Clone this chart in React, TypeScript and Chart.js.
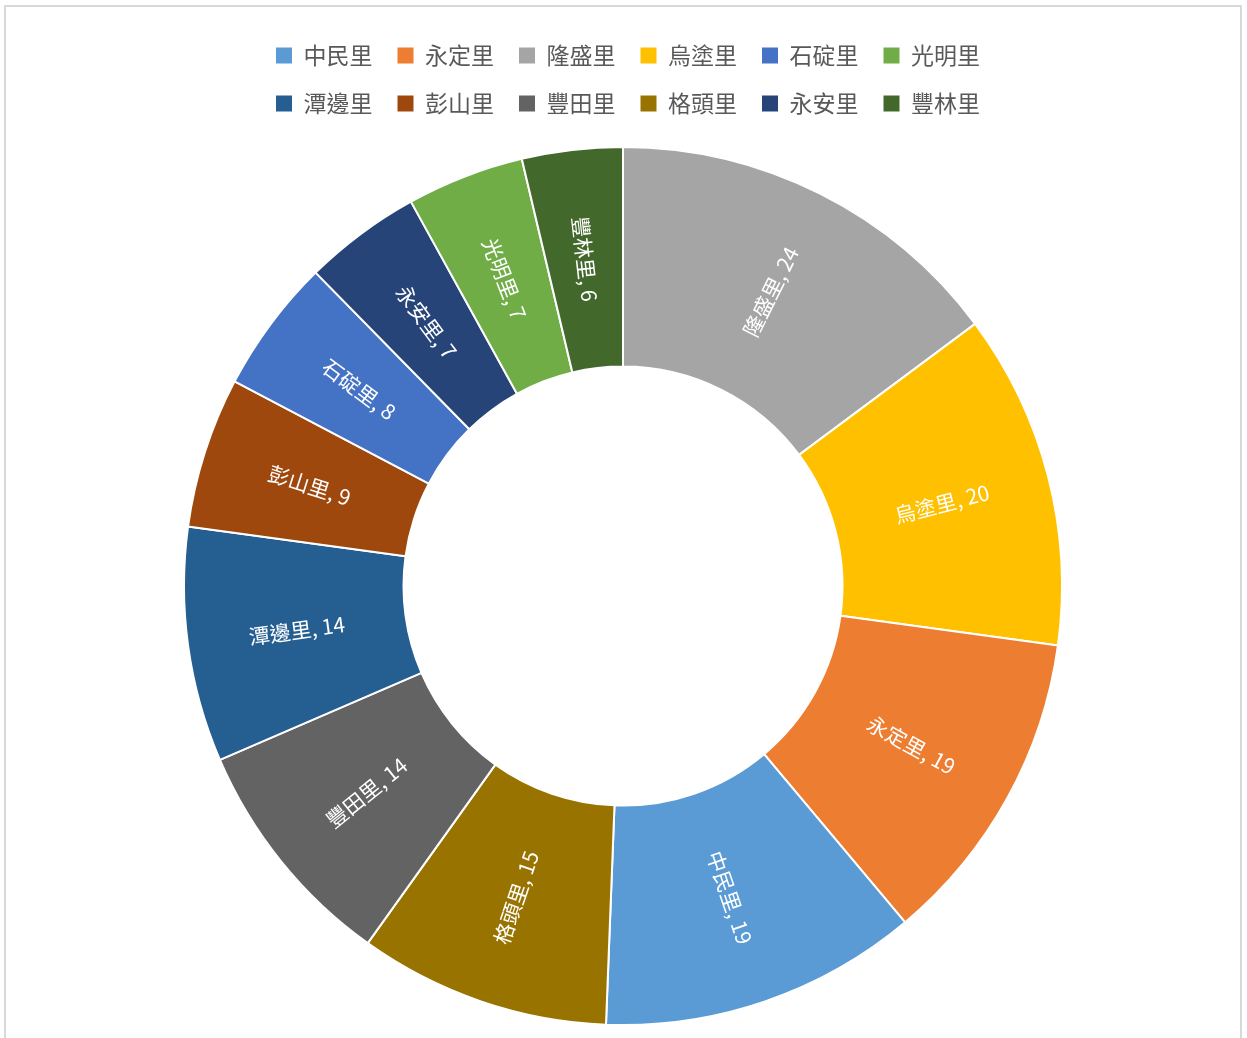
import React, { useEffect, useRef } from "react";
import { Chart, registerables } from "chart.js";

Chart.register(...registerables);

// Slices in clockwise order from 12 o'clock
const categories = ["隆盛里", "烏塗里", "永定里", "中民里", "格頭里", "豐田里", "潭邊里", "彭山里", "石碇里", "永安里", "光明里", "豐林里"];
const values = [24, 20, 19, 19, 15, 14, 14, 9, 8, 7, 7, 6];
const colors = ["#A5A5A5", "#FFC000", "#ED7D31", "#5B9BD5", "#997300", "#636363", "#255E91", "#9E480E", "#4472C4", "#264478", "#70AD47", "#43682B"];
// Legend order (as shown in the reference legend)
const legendOrder = ["中民里", "永定里", "隆盛里", "烏塗里", "石碇里", "光明里", "潭邊里", "彭山里", "豐田里", "格頭里", "永安里", "豐林里"];

const FONT = '"Noto Sans CJK TC", "Noto Sans", sans-serif';
const CANVAS_W = 1234;
const CANVAS_H = 1040;
const LEGEND_W = 800;
const LEGEND_CX = 622;

const legendWrap = {
  id: "legendWrap",
  beforeLayout(chart: any) {
    const lg = chart.legend;
    if (lg && !lg.__patched) {
      const orig = lg.update.bind(lg);
      lg.update = (w: number, h: number, m: any) => orig(Math.min(w, LEGEND_W), h, m);
      lg.__patched = true;
    }
  },
  afterLayout(chart: any) {
    const lg = chart.legend;
    if (!lg) return;
    lg.left = LEGEND_CX - LEGEND_W / 2;
    lg.right = LEGEND_CX + LEGEND_W / 2;
    lg.width = LEGEND_W;
  },
};

const sliceLabels = {
  id: "sliceLabels",
  afterDatasetsDraw(chart: any) {
    const ctx = chart.ctx;
    const meta = chart.getDatasetMeta(0);
    ctx.save();
    ctx.font = `21px ${FONT}`;
    ctx.fillStyle = "#ffffff";
    ctx.textAlign = "center";
    ctx.textBaseline = "middle";
    meta.data.forEach((arc: any, i: number) => {
      const p = arc.getProps(["x", "y", "startAngle", "endAngle", "innerRadius", "outerRadius"], true);
      const mid = (p.startAngle + p.endAngle) / 2;
      const r = (p.innerRadius + p.outerRadius) / 2;
      const x = p.x + r * Math.cos(mid);
      const y = p.y + r * Math.sin(mid);
      let rot = mid;
      if (Math.cos(mid) < 0) rot += Math.PI;
      ctx.save();
      ctx.translate(x, y);
      ctx.rotate(rot);
      ctx.fillText(`${categories[i]}, ${values[i]}`, 0, 0);
      ctx.restore();
    });
    ctx.restore();
  },
};

export default function App() {
  const ref = useRef<HTMLCanvasElement | null>(null);

  useEffect(() => {
    if (!ref.current) return;
    const chart = new Chart(ref.current, {
      type: "doughnut",
      data: {
        labels: categories,
        datasets: [
          {
            data: values,
            backgroundColor: colors,
            borderColor: "#ffffff",
            borderWidth: 2,
          },
        ],
      },
      options: {
        responsive: false,
        animation: false,
        radius: 439,
        cutout: "50%",
        layout: { padding: { top: 12, bottom: 0, left: 0, right: 0 } },
        plugins: {
          tooltip: { enabled: false },
          legend: {
            position: "top",
            labels: {
              boxWidth: 16,
              boxHeight: 16,
              padding: 25,
              color: "#595959",
              font: { size: 23, family: FONT },
              sort: (a: any, b: any) => legendOrder.indexOf(a.text) - legendOrder.indexOf(b.text),
              generateLabels: (chart: any) => {
                const base = (Chart as any).overrides.doughnut.plugins.legend.labels.generateLabels(chart);
                return base.map((it: any) => ({ ...it, lineWidth: 0, strokeStyle: it.fillStyle }));
              },
            },
          },
        },
      } as any,
      plugins: [legendWrap, sliceLabels],
    });
    return () => chart.destroy();
  }, []);

  return (
    <div style={{ position: "fixed", inset: 0, overflow: "hidden", background: "#ffffff" }}>
      <div
        style={{
          position: "absolute",
          left: 4,
          top: 5,
          width: 1238,
          height: 1100,
          border: "2px solid #d9d9d9",
          boxSizing: "border-box",
          background: "#ffffff",
        }}
      >
        <canvas ref={ref} width={CANVAS_W} height={CANVAS_H} style={{ display: "block" }} />
      </div>
    </div>
  );
}
